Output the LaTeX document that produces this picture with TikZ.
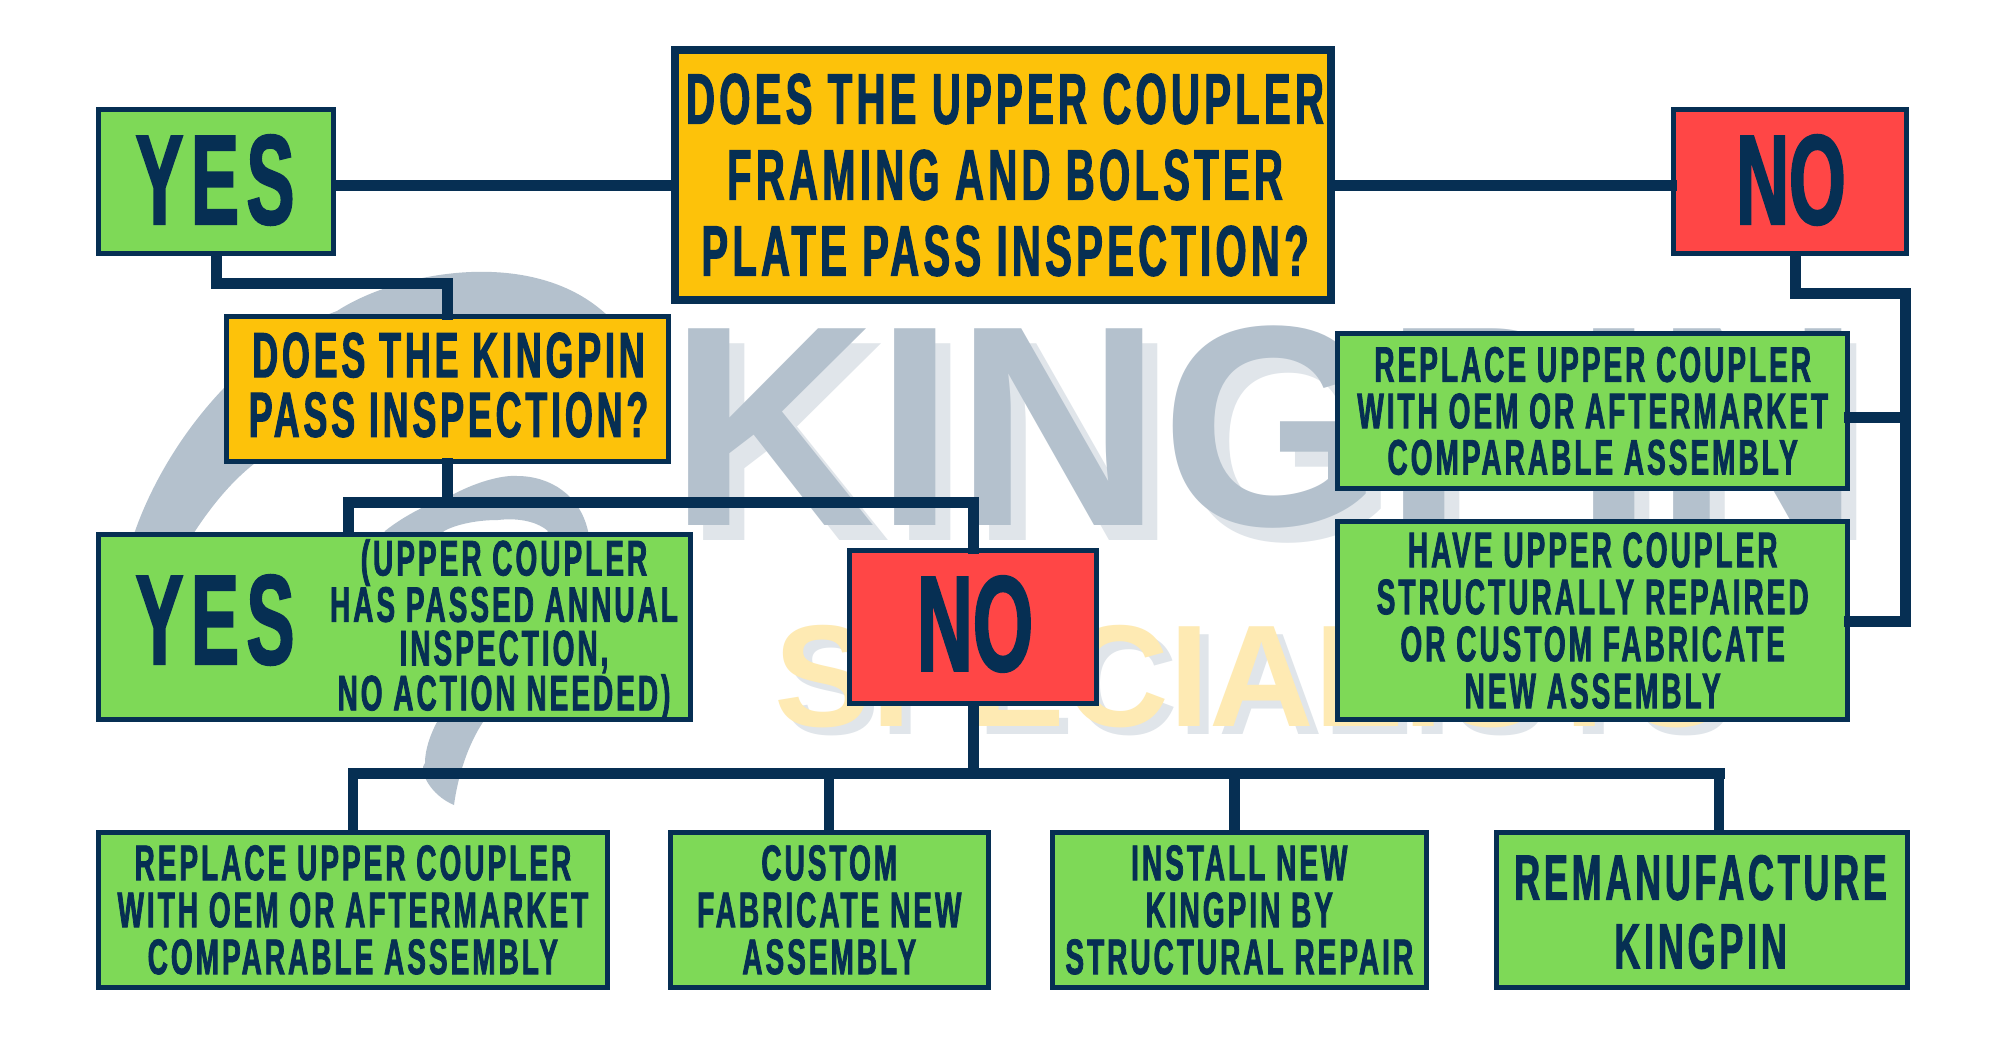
\documentclass[tikz,border=0pt]{standalone}
\usepackage{fontspec}
\newfontfamily\boxfont[FakeStretch=0.56,LetterSpace=6,FakeBold=1.5]{Liberation Sans}
\newfontfamily\nofont[FakeStretch=0.57,FakeBold=1.5]{Liberation Sans}
\newfontfamily\markfont{Liberation Sans}
\definecolor{navy}{HTML}{062F53}
\definecolor{leaf}{HTML}{7ED957}
\definecolor{amber}{HTML}{FDC20A}
\definecolor{alarm}{HTML}{FF4646}
\definecolor{markgrey}{HTML}{B4C1CD}
\definecolor{markpale}{HTML}{E0E5EA}
\definecolor{markgold}{HTML}{FEEAB3}
\tikzset{
	box/.style args={#1/#2/#3}{draw=navy,fill=#1,line width=5pt,minimum width=#2pt,minimum height=#3pt,inner sep=0pt,text=navy,align=center},
	txt/.style 2 args={font=\boxfont\bfseries\fontsize{#1}{#2}\selectfont},
	notxt/.style={font=\nofont\bfseries\fontsize{#1}{#1}\selectfont},
	word/.style={text=navy,inner sep=0pt,align=center},
	link/.style={draw=navy,line width=11pt,line cap=rect},
	drop/.style={draw=navy,line width=10.5pt}
}
\begin{document}
\begin{tikzpicture}[x=1pt,y=-1pt]
	\useasboundingbox (0,0) rectangle (2000,1047);
	\fill[white] (0,0) rectangle (2000,1047);
	
	\fill[markgrey] (124,570) .. controls (145,470) and (230,350) .. (337,311) .. controls (400,270) and (540,245) .. (612,320) -- (612,440) -- (300,440) .. controls (260,450) and (215,490) .. (172,570) -- cycle;
	\fill[markgrey] (370,560) -- (385,531) .. controls (405,515) and (430,503) .. (452,495) .. controls (480,480) and (505,475) .. (517,476) .. controls (550,476) and (580,495) .. (588,531) -- (588,620) .. controls (530,650) and (495,690) .. (483,722) .. controls (468,745) and (458,775) .. (454,805) .. controls (430,795) and (418,770) .. (425,763) .. controls (425,750) and (430,735) .. (437,722) -- (470,640) -- (548,531) .. controls (535,520) and (515,518) .. (498,520) .. controls (475,520) and (455,525) .. (444,531) -- (420,560) -- cycle;
	
	\node[text=markpale,font=\markfont\bfseries\fontsize{286}{286}\selectfont,inner sep=0pt] (kingshadow) at (1280,442) {KINGPIN};
	\node[text=markgrey,font=\markfont\bfseries\fontsize{286}{286}\selectfont,inner sep=0pt] (kingmark) at (1265,427) {KINGPIN};
	\node[text=markpale,font=\markfont\bfseries\fontsize{145}{145}\selectfont,inner sep=0pt] (specshadow) at (1259,685) {SPECIALISTS};
	\node[text=markgold,font=\markfont\bfseries\fontsize{145}{145}\selectfont,inner sep=0pt] (specmark) at (1250,677) {SPECIALISTS};
	
	\node[box=amber/656/250,line width=8pt] (mainq) at (1003,175) {};
	\node[word,txt={71.5}{76}] (mainqword) at (1005,175) {DOES THE UPPER COUPLER\\FRAMING AND BOLSTER\\PLATE PASS INSPECTION?};
	\node[box=leaf/235/144.4] (yesa) at (216,181.7) {};
	\node[word,txt={128}{128}] (yesaword) at (215,180) {YES};
	\node[box=alarm/233/144.4] (noa) at (1790,181.7) {};
	\node[word,notxt=128] (noaword) at (1791,180) {NO};
	\node[box=amber/441.5/144.6] (kingq) at (447.7,388.8) {};
	\node[word,txt={64}{59.6}] (kingqword) at (448.5,385) {DOES THE KINGPIN\\PASS INSPECTION?};
	\node[box=leaf/592.3/185] (yesb) at (394.4,626.5) {};
	\node[word,txt={128}{128}] (yesbword) at (215,620) {YES};
	\node[word,txt={50}{43.6}] (yesbnote) at (504,630) {(UPPER COUPLER\\HAS PASSED ANNUAL\\INSPECTION,\\NO ACTION NEEDED)};
	\node[box=alarm/247/153] (nob) at (973,627) {};
	\node[word,notxt=136] (nobword) at (975,624) {NO};
	\node[box=leaf/509.5/154.4,txt={50}{46.4}] (repa) at (1592.7,411) {REPLACE UPPER COUPLER\\WITH OEM OR AFTERMARKET\\COMPARABLE ASSEMBLY};
	\node[box=leaf/509.5/198,txt={50}{47}] (repb) at (1592.7,620.5) {HAVE UPPER COUPLER\\STRUCTURALLY REPAIRED\\OR CUSTOM FABRICATE\\NEW ASSEMBLY};
	\node[box=leaf/509.3/154.7,txt={50}{47}] (fixa) at (352.9,909.9) {REPLACE UPPER COUPLER\\WITH OEM OR AFTERMARKET\\COMPARABLE ASSEMBLY};
	\node[box=leaf/318/154.7,txt={50}{47}] (fixb) at (829.3,909.9) {CUSTOM\\FABRICATE NEW\\ASSEMBLY};
	\node[box=leaf/374.3/154.7,txt={50}{47}] (fixc) at (1239.3,909.9) {INSTALL NEW\\KINGPIN BY\\STRUCTURAL REPAIR};
	\node[box=leaf/411.4/154.7] (fixd) at (1701.8,909.9) {};
	\node[word,txt={64}{68.7}] (fixdword) at (1700.6,912) {REMANUFACTURE\\KINGPIN};
	
	\coordinate (mainline) at (1003,185);
	\coordinate (yesbend) at (447.7,283);
	\coordinate (kingsplit) at (447.7,502);
	\coordinate (yesdrop) at (348,502);
	\coordinate (bus) at (973,773);
	\coordinate (busa) at (353,773);
	\coordinate (busb) at (829,773);
	\coordinate (busc) at (1234.5,773);
	\coordinate (busd) at (1719,773);
	\coordinate (nobend) at (1795,293.6);
	\coordinate (railtop) at (1905,293.6);
	\coordinate (railend) at (1905,621);
	\coordinate (railjoin) at (1905,417);
	
	\draw[link] (yesa.east |- mainline) -- (mainq.west |- mainline);
	\draw[link] (mainq.east |- mainline) -- (noa.west |- mainline);
	\draw[link] (yesa.south) |- (yesbend) -- (kingq.north);
	\draw[link] (kingq.south) -- (kingsplit);
	\draw[link] (yesb.north -| yesdrop) -- (yesdrop) -- (nob.north |- yesdrop) -- (nob.north);
	\draw[link] (nob.south) -- (bus);
	\draw[link] (busa) -- (busd);
	\draw[drop] (busa) -- (fixa.north -| busa);
	\draw[drop] (busb) -- (fixb.north -| busb);
	\draw[drop] (busc) -- (fixc.north -| busc);
	\draw[drop] (busd) -- (fixd.north -| busd);
	\draw[link] (noa.south -| nobend) -- (nobend) -- (railtop) -- (railend) -- (repb.east |- railend);
	\draw[link] (repa.east |- railjoin) -- (railjoin);
	
\end{tikzpicture}
\end{document}
